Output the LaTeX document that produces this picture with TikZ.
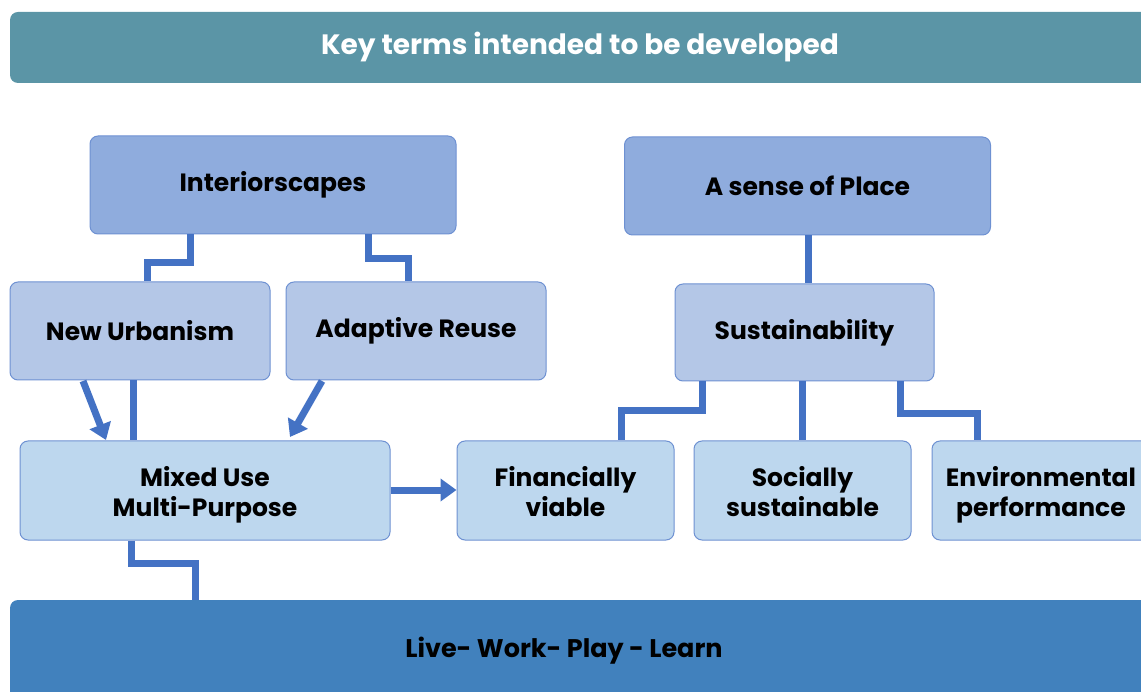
\documentclass[tikz,border=0pt]{standalone}
\usepackage{fontspec}
\setmainfont{Poppins}
\usetikzlibrary{arrows.meta}
\definecolor{bannerc}{HTML}{5B95A6}
\definecolor{darkbox}{HTML}{8FACDD}
\definecolor{midbox}{HTML}{B4C7E7}
\definecolor{lightbox}{HTML}{BDD7EE}
\definecolor{edgec}{HTML}{6E91D2}
\definecolor{linec}{HTML}{4472C4}
\definecolor{bottomc}{HTML}{4181BD}
\newcommand{\twolines}[2]{\begin{tabular}{@{}c@{}}\rule{0pt}{31pt}#1\\#2\end{tabular}}
\tikzset{
  box/.style={draw=edgec, line width=1pt, rounded corners=8pt, align=center, inner sep=0pt, font=\bfseries\fontsize{25}{30}\selectfont, text=black},
  lvl1/.style={box, fill=darkbox, minimum width=366pt, minimum height=98pt},
  lvl2/.style={box, fill=midbox, minimum width=260pt, minimum height=98pt},
  lvl3/.style={box, fill=lightbox, minimum height=99pt},
  conn/.style={draw=linec, line width=7pt},
  arr/.style={conn, -{Triangle[width=22pt,length=16pt]}},
}
\begin{document}
\begin{tikzpicture}[x=1pt,y=-1pt]
\useasboundingbox (0,0) rectangle (1141,692);
\clip (0,0) rectangle (1141,692);
% banner
\node[fill=bannerc, rounded corners=8pt, minimum width=1140pt, minimum height=71pt, inner sep=0pt] (banner) at (580,47.5) {};
\node[text=white, font=\bfseries\fontsize{28}{32}\selectfont] (bannertext) at (580,47) {Key terms intended to be developed};
% top level
\node[lvl1] (inter) at (273,185) {Interiorscapes};
\node[lvl1] (place) at (807.5,186) {A sense of Place};
% second level
\node[lvl2] (urban) at (140,331) {New Urbanism};
\node[lvl2] (reuse) at (416,331) {Adaptive Reuse};
\node[lvl2, minimum width=259pt, minimum height=97pt] (sust) at (804.5,332.5) {Sustainability};
% third level
\node[lvl3, minimum width=370pt] (mixed) at (205,490.5) {\twolines{Mixed Use}{Multi-Purpose}};
\node[lvl3, minimum width=217pt] (fin) at (565.5,490.5) {\twolines{Financially}{viable}};
\node[lvl3, minimum width=217pt] (soc) at (802.5,490.5) {\twolines{Socially}{sustainable}};
\node[lvl3, minimum width=218pt] (env) at (1041,490.5) {\twolines{Environmental}{performance}};
% bottom
\node[fill=bottomc, rounded corners=8pt, minimum width=1150pt, minimum height=100pt, inner sep=0pt] (live) at (585,650) {};
\node[font=\bfseries\fontsize{25.5}{30}\selectfont, text=black] (livetext) at (564,651) {Live- Work- Play - Learn};
% connectors
\path[conn] (inter.south -| 190,0) |- (147,263) -- (147,263 |- urban.north);
\path[conn] (inter.south -| 368,0) |- (408,259) -- (408,259 |- reuse.north);
\path[conn] (place.south -| 808,0) -- (808,0 |- sust.north);
\path[conn] (sust.south -| 702,0) |- (621,411) -- (621,411 |- fin.north);
\path[conn] (sust.south -| 802,0) -- (802,0 |- soc.north);
\path[conn] (sust.south -| 900,0) |- (977,414) -- (977,414 |- env.north);
\path[conn] (urban.south -| 133,0) -- (133,0 |- mixed.north);
\path[conn] (mixed.south -| 131,0) |- (195,563) -- (195,563 |- live.north);
\coordinate (a1s) at (83,381);
\coordinate (a1e) at (106,440);
\coordinate (a2s) at (322,381);
\coordinate (a2e) at (290,437);
\path[arr] (a1s) -- (a1e);
\path[arr] (a2s) -- (a2e);
\path[arr] (mixed.east |- 0,490) -- (fin.west |- 0,490);
\end{tikzpicture}
\end{document}
